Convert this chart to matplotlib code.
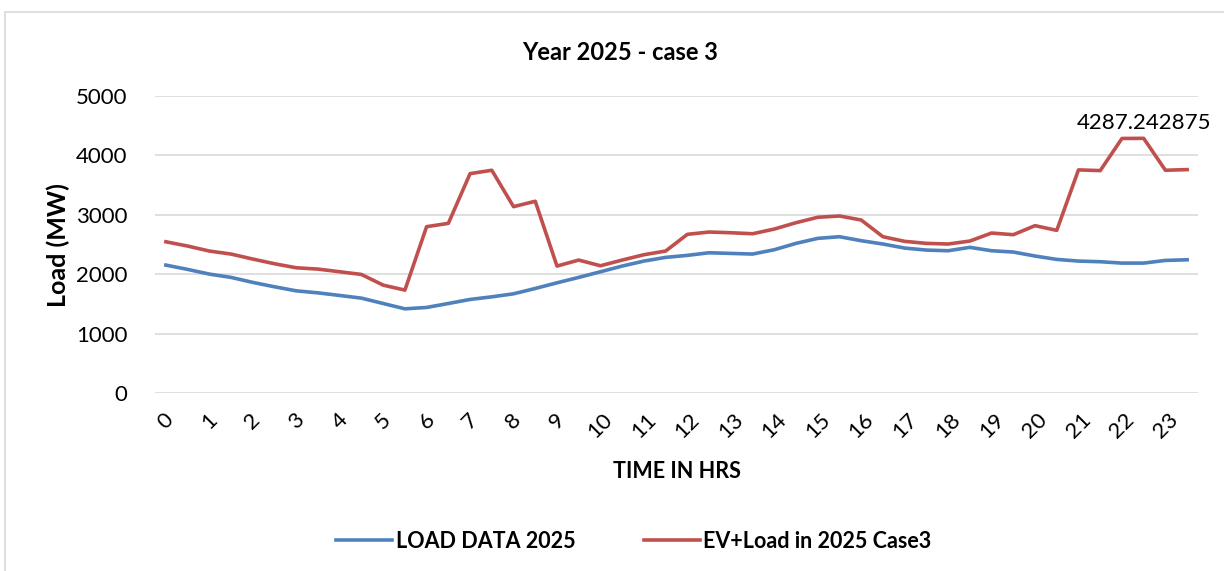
import numpy as np
import matplotlib.pyplot as plt
from matplotlib.patches import Rectangle

# half-hourly time steps, labelled every hour
hours = np.arange(48) * 0.5
hour_labels = [str(h) for h in range(24)]

load_2025 = [2153, 2081, 2002, 1946, 1862, 1788, 1720, 1686, 1642, 1597,
             1507, 1417, 1440, 1507, 1575, 1619, 1670, 1760, 1855, 1946,
             2041, 2137, 2221, 2283, 2317, 2361, 2350, 2339, 2412, 2519,
             2603, 2631, 2564, 2508, 2440, 2406, 2395, 2452, 2395, 2373,
             2306, 2249, 2221, 2210, 2187, 2187, 2232, 2243]

ev_load_2025 = [2546, 2474, 2390, 2339, 2255, 2176, 2108, 2086, 2041, 1996,
                1816, 1732, 2800, 2856, 3693, 3750, 3137, 3228, 2137, 2238,
                2142, 2238, 2328, 2390, 2671, 2710, 2698, 2681, 2760, 2867,
                2958, 2980, 2912, 2631, 2553, 2519, 2508, 2558, 2693, 2665,
                2817, 2738, 3756, 3744, 4285, 4287.242875, 3750, 3761]

peak_idx = 45

plt.rcParams['font.family'] = ['Lato', 'DejaVu Sans']

W, H = 1224, 571
fig = plt.figure(figsize=(W / 100, H / 100), dpi=100)
ax = fig.add_axes([155 / W, 1 - 393 / H, (1198 - 155) / W, (393 - 96) / H])

# chart border
fig.patches.append(Rectangle((5 / W, -0.01), 1.0, 1 - 12 / H + 0.01,
                             transform=fig.transFigure, fill=False,
                             edgecolor='#D9D9D9', linewidth=1.2))

ax.plot(hours, load_2025, color='#4F81BD', linewidth=2.6, label='LOAD DATA 2025')
ax.plot(hours, ev_load_2025, color='#C0504D', linewidth=2.6, label='EV+Load in 2025 Case3')

ax.annotate(f"{ev_load_2025[peak_idx]}", (hours[peak_idx], ev_load_2025[peak_idx]),
            xytext=(0, 4), textcoords='offset points', ha='center', va='bottom',
            fontsize=16)

ax.set_xlim(-0.25, 23.75)
ax.set_ylim(0, 5000)
ax.set_yticks(np.arange(0, 5001, 1000))
ax.set_xticks(np.arange(24))
ax.set_xticklabels(hour_labels, rotation=45, ha='center', va='top')
ax.tick_params(axis='both', length=0, labelsize=16)
ax.tick_params(axis='y', pad=20)
ax.tick_params(axis='x', pad=12)
ax.grid(axis='y', color='#D9D9D9', linewidth=1.2)
ax.set_axisbelow(True)
for s in ax.spines.values():
    s.set_visible(False)

fig.text(620 / W, 1 - 52 / H, 'Year 2025 - case 3', fontsize=17, fontweight='bold',
         ha='center', va='center')
fig.text(677 / W, 1 - 471 / H, 'TIME IN HRS', fontsize=15.5, fontweight='bold',
         ha='center', va='center')
fig.text(58 / W, 1 - 245 / H, 'Load (MW)', fontsize=18, fontweight='bold',
         ha='center', va='center', rotation=90)

fig.legend(loc='center', bbox_to_anchor=(634 / W, 1 - 541 / H), ncol=2,
           frameon=False, prop={'weight': 'bold', 'size': 15.5},
           handlelength=2.6, columnspacing=3.2, handletextpad=0.15)

fig.savefig('out.png', dpi=100)
